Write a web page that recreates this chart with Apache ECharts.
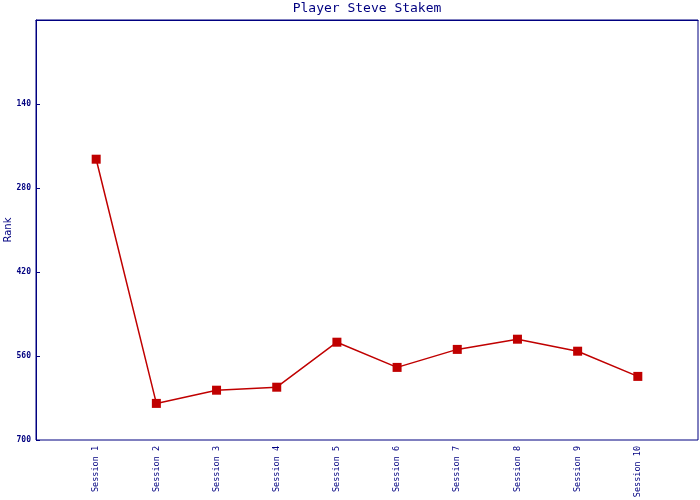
<!DOCTYPE html>
<html>
<head>
<meta charset="utf-8">
<script src="https://cdn.jsdelivr.net/npm/echarts@6/dist/echarts.min.js"></script>
<style>html,body{margin:0;padding:0;background:#fff}#c{width:700px;height:500px}</style>
</head>
<body>
<div id="c"></div>
<script>
const categories = ['Session 1','Session 2','Session 3','Session 4','Session 5','Session 6','Session 7','Session 8','Session 9','Session 10'];
const ranks = [232, 639, 617, 612, 537, 579, 549, 532, 552, 594];
const yTicks = [0, 140, 280, 420, 560, 700];

const navy = '#000080';
const axisData = [''].concat(categories, ['']);
const seriesData = [null].concat(ranks, [null]);

const chart = echarts.init(document.getElementById('c'), null, {renderer: 'canvas'});
chart.setOption({
  animation: false,
  backgroundColor: '#fff',
  title: {
    text: 'Player Steve Stakem',
    left: 367, top: 2, padding: 0, textAlign: 'center',
    textStyle: {color: navy, fontFamily: 'DejaVu Sans Mono', fontSize: 13, fontWeight: 'normal'}
  },
  grid: {left: 36, right: 2, top: 20, bottom: 60, containLabel: false, outerBoundsMode: 'none',
         show: true, borderColor: navy, borderWidth: 1, backgroundColor: 'transparent'},
  xAxis: {
    type: 'category',
    data: axisData,
    boundaryGap: false,
    axisLine: {lineStyle: {color: navy, width: 1}},
    axisTick: {show: false},
    splitLine: {show: false},
    axisLabel: {
      interval: 0, rotate: 90, color: navy, fontFamily: 'DejaVu Sans Mono', fontSize: 8.5, margin: 6
    }
  },
  yAxis: {
    type: 'value',
    inverse: true,
    min: yTicks[0], max: yTicks[yTicks.length - 1], interval: 140,
    name: 'Rank', nameLocation: 'middle', nameGap: 23, nameRotate: 90, nameMoveOverlap: false,
    nameTextStyle: {color: navy, fontFamily: 'DejaVu Sans', fontSize: 10},
    axisLine: {show: true, lineStyle: {color: navy, width: 1}},
    axisTick: {show: true, inside: true, length: 4, lineStyle: {color: navy, width: 1}},
    splitLine: {show: false},
    axisLabel: {showMinLabel: false, color: navy, fontFamily: 'DejaVu Sans Mono', fontSize: 8, fontWeight: 'bold', margin: 5}
  },
  series: [{
    type: 'line',
    data: seriesData,
    connectNulls: false,
    symbol: 'rect',
    symbolSize: 9,
    itemStyle: {color: '#C00000'},
    lineStyle: {color: '#C00000', width: 1.5}
  }]
});
</script>
</body>
</html>
